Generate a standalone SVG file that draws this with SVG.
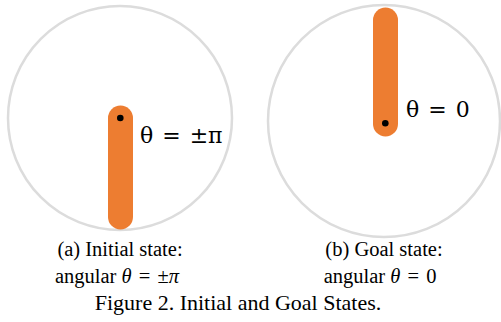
<svg xmlns="http://www.w3.org/2000/svg" width="501" height="322" viewBox="0 0 501 322">
<style>
.ring{fill:none;stroke:#dcdcdc;stroke-width:2.5}
.pole{stroke:#ED7D31;stroke-width:25;stroke-linecap:round}
.pivot{fill:#000}
.lbl{font-family:"DejaVu Serif",serif;font-size:22px;fill:#000}
.cap{font-family:"Liberation Serif","Times New Roman",serif;font-size:20.5px;fill:#000;text-anchor:middle}
.fig{font-size:22px}
.m{font-style:italic}
</style>
<rect width="501" height="322" fill="#fff"/>
<g id="initial">
<circle class="ring" cx="120" cy="118" r="112"/>
<line class="pole" x1="120.5" y1="118" x2="120.5" y2="217"/>
<circle class="pivot" cx="120.3" cy="118" r="3.3"/>
<text class="lbl" x="140" y="143" xml:space="preserve">θ <tspan dx="2">=</tspan> <tspan dx="2">±π</tspan></text>
</g>
<g id="goal">
<circle class="ring" cx="384" cy="121" r="116"/>
<line class="pole" x1="385.5" y1="20" x2="385.5" y2="124"/>
<circle class="pivot" cx="385.3" cy="123.3" r="3.3"/>
<text class="lbl" x="406" y="117" xml:space="preserve">θ <tspan dx="2">=</tspan> <tspan dx="2">0</tspan></text>
</g>
<g id="captions">
<text class="cap" x="120" y="256">(a) Initial state:</text>
<text class="cap" x="117" y="283" xml:space="preserve">angular <tspan class="m">θ</tspan> <tspan dx="2">=</tspan> <tspan dx="2">±</tspan><tspan class="m">π</tspan></text>
<text class="cap" x="384" y="256">(b) Goal state:</text>
<text class="cap" x="380" y="283" xml:space="preserve">angular <tspan class="m">θ</tspan> <tspan dx="2">=</tspan> <tspan dx="2">0</tspan></text>
<text class="cap fig" x="238" y="310">Figure 2. Initial and Goal States.</text>
</g>
</svg>
